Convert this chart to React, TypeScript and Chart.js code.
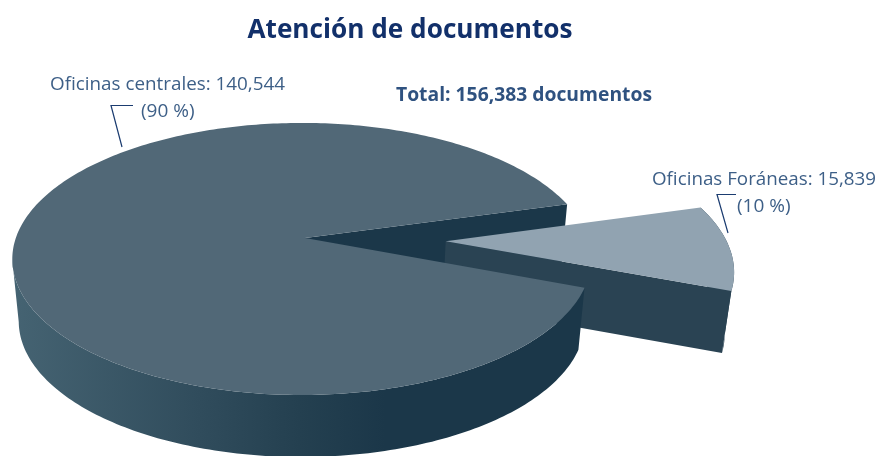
import React, { useEffect, useRef } from "react";
import { Chart, registerables } from "chart.js";

Chart.register(...registerables);

const categories = ["Oficinas centrales", "Oficinas Foráneas"];
const documentos = [140544, 15839];
const percentLabels = ["(90 %)", "(10 %)"];
const sliceOffsets = [0, 74];
const topColors = ["#516877", "#91a3b1"];
const titleText = "Atención de documentos";
const totalText = "Total: 156,383 documentos";

const fmt = (n: number) => n.toLocaleString("en-US");

// Projection of the flat pie into the tilted view
const AP = { x: 305, y: 238, a: 132.8, b: 286, k: 0.154, m: 0.011, depth: 62, shrink: 0.978 };

function project(u: number, v: number) {
  const w = 1 - AP.k * v + AP.m * u;
  return { x: AP.x + (AP.b * u) / w, y: AP.y + (AP.a * v) / w };
}
function lower(p: { x: number; y: number }) {
  return { x: AP.x + (p.x - AP.x) * AP.shrink, y: p.y + AP.depth };
}
function rimPoints(a0: number, a1: number, du: number, dv: number) {
  const pts = [];
  const n = Math.max(4, Math.ceil(((a1 - a0) * 180) / Math.PI));
  for (let i = 0; i <= n; i++) {
    const t = a0 + ((a1 - a0) * i) / n;
    pts.push(project(Math.cos(t) + du, Math.sin(t) + dv));
  }
  return pts;
}
function fillPoly(ctx: CanvasRenderingContext2D, pts: { x: number; y: number }[], fill: any) {
  ctx.beginPath();
  pts.forEach((p, i) => (i ? ctx.lineTo(p.x, p.y) : ctx.moveTo(p.x, p.y)));
  ctx.closePath();
  ctx.fillStyle = fill;
  ctx.fill();
}

function sliceGeom(arc: any) {
  const mid = (arc.startAngle + arc.endAngle) / 2;
  const e = (arc.options.offset || 0) / arc.outerRadius;
  const du = Math.cos(mid) * e;
  const dv = Math.sin(mid) * e;
  const apex = project(du, dv);
  return { a0: arc.startAngle, a1: arc.endAngle, du, dv, apex };
}

const pie3d = {
  id: "pie3d",
  beforeDatasetsDraw(chart: any) {
    const ctx: CanvasRenderingContext2D = chart.ctx;
    const arcs = chart.getDatasetMeta(0).data;
    const main = sliceGeom(arcs[0]);
    const far = sliceGeom(arcs[1]);
    ctx.save();

    // wall of the notch in the large slice, seen through the gap
    const notchEnd = project(Math.cos(main.a1), Math.sin(main.a1));
    fillPoly(ctx, [main.apex, notchEnd, lower(notchEnd), lower(main.apex)], "#1b3749");

    // separated slice: body, wall, top
    const farRim = rimPoints(far.a0, far.a1, far.du, far.dv);
    const farEnd = farRim[farRim.length - 1];
    fillPoly(ctx, [...farRim, ...farRim.map(lower).reverse()], "#2a4353");
    fillPoly(ctx, [far.apex, farEnd, lower(farEnd), lower(far.apex)], "#2a4353");
    fillPoly(ctx, [far.apex, ...farRim], arcs[1].options.backgroundColor);

    // large slice: front rim up to the leftmost point, then top
    const mainRim = rimPoints(main.a0, main.a1, 0, 0);
    let left = 0;
    mainRim.forEach((p, i) => {
      if (p.x < mainRim[left].x) left = i;
    });
    const frontRim = mainRim.slice(0, left + 1);
    const grad = ctx.createLinearGradient(15, 0, 385, 0);
    grad.addColorStop(0, "#456372");
    grad.addColorStop(0.5, "#304c5c");
    grad.addColorStop(0.77, "#244050");
    grad.addColorStop(1, "#1b3749");
    fillPoly(ctx, [...frontRim, ...frontRim.map(lower).reverse()], grad);
    fillPoly(ctx, [main.apex, ...mainRim], arcs[0].options.backgroundColor);

    ctx.restore();
    return false;
  },
  afterDraw(chart: any) {
    const ctx: CanvasRenderingContext2D = chart.ctx;
    ctx.save();
    ctx.textBaseline = "alphabetic";
    ctx.textAlign = "left";

    const text = (s: string, x: number, y: number, font: string, color: string, maxW?: number) => {
      ctx.font = font;
      ctx.fillStyle = color;
      if (maxW) ctx.fillText(s, x, y, maxW);
      else ctx.fillText(s, x, y);
    };
    const labelFont = '19px "Open Sans"';
    const labelColor = "#3d5f87";
    text(`${categories[0]}: ${fmt(documentos[0])}`, 50, 90, labelFont, labelColor, 235);
    text(percentLabels[0], 141, 117, labelFont, labelColor, 54);
    text(`${categories[1]}: ${fmt(documentos[1])}`, 652, 185, labelFont, labelColor, 224);
    text(percentLabels[1], 737, 212, labelFont, labelColor, 54);
    text(totalText, 396, 101, 'bold 19.4px "Open Sans"', "#2f5280", 256);

    ctx.strokeStyle = "#1b3c70";
    ctx.lineWidth = 1.2;
    const lead = (pts: number[][]) => {
      ctx.beginPath();
      pts.forEach((p, i) => (i ? ctx.lineTo(p[0], p[1]) : ctx.moveTo(p[0], p[1])));
      ctx.stroke();
    };
    lead([[133, 105.5], [111, 105.5], [122, 147]]);
    lead([[736, 194.5], [717, 194.5], [728, 233]]);
    ctx.restore();
  },
};

export default function App() {
  const ref = useRef<HTMLCanvasElement>(null);
  useEffect(() => {
    const chart = new Chart(ref.current!, {
      type: "pie",
      data: {
        labels: categories,
        datasets: [
          {
            data: documentos,
            backgroundColor: topColors,
            offset: sliceOffsets,
            borderWidth: 0,
            radius: 150,
          },
        ],
      },
      options: {
        responsive: false,
        animation: false,
        rotation: 111,
        layout: { padding: { right: 58 } },
        plugins: {
          legend: { display: false },
          tooltip: { enabled: false },
          title: {
            display: true,
            text: titleText,
            color: "#12306a",
            font: { family: '"Open Sans"', size: 26.2, weight: "bold" },
            padding: { top: 15, bottom: 10 },
          },
        },
      },
      plugins: [pie3d],
    } as any);
    return () => chart.destroy();
  }, []);
  return (
    <canvas
      ref={ref}
      width={878}
      height={456}
      style={{ position: "absolute", left: 0, top: 0, width: 878, height: 456 }}
    />
  );
}
